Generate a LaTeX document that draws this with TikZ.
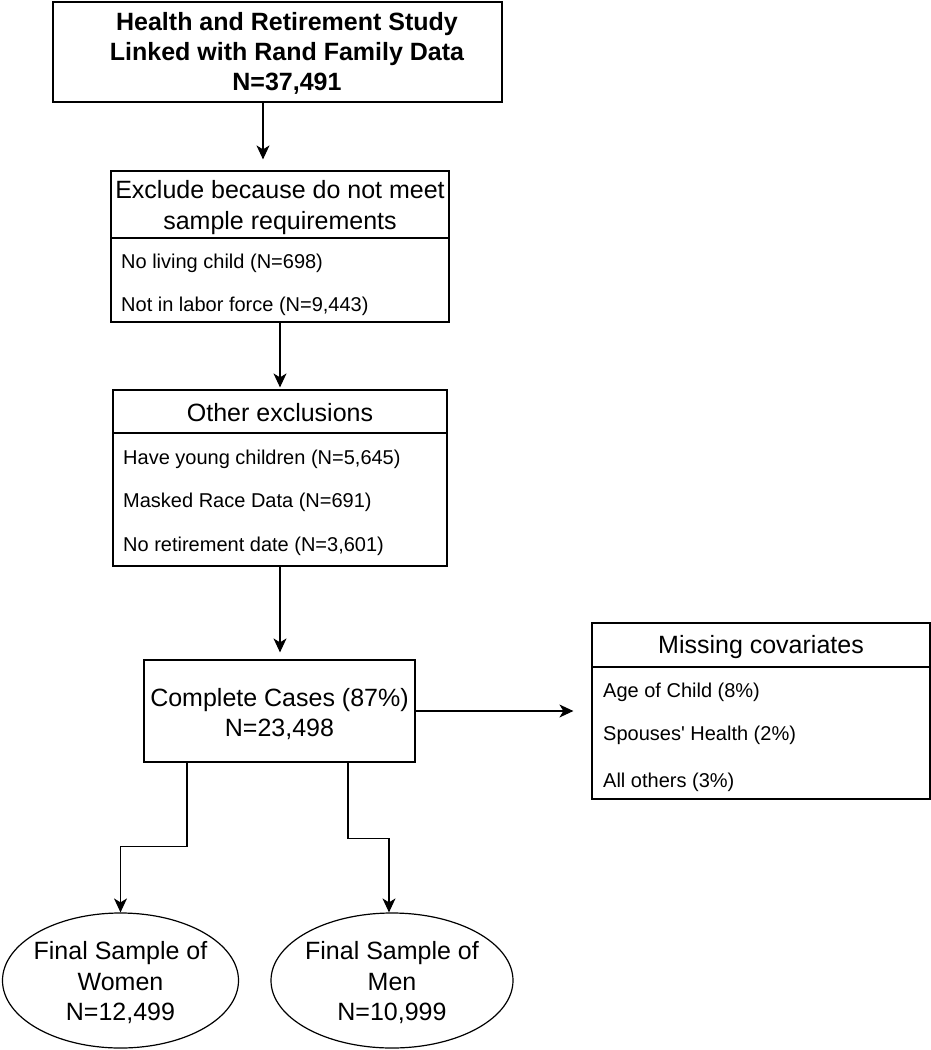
\documentclass[tikz,border=0pt]{standalone}
\usepackage{fontspec}
\setmainfont{Liberation Sans}
\usetikzlibrary{shapes.geometric,arrows.meta}
\begin{document}
\begin{tikzpicture}[x=1pt,y=-1pt,
 box/.style={draw,line width=1.2pt,rectangle,inner sep=0pt},
 ttl/.style={font=\fontsize{25}{30.5}\selectfont,align=center,inner sep=0pt},
 itm/.style={font=\fontsize{20}{24}\selectfont,anchor=west,inner sep=0pt},
 conn/.style={line width=1.2pt,-{Stealth[length=14pt,width=13pt,inset=4pt]}},
 oval/.style={draw,ellipse,line width=1.2pt,inner sep=0pt,minimum height=135pt}]
\useasboundingbox (0,0) rectangle (931,1050);

% top box
\node[box,minimum width=449pt,minimum height=100pt] (top) at (277.5,52) {};
\node[inner sep=0pt,align=center,font=\bfseries\fontsize{25}{30}\selectfont] (toptxt) at (287,53) {Health and Retirement Study\\Linked with Rand Family Data\\N=37,491};

% box 2
\node[box,minimum width=338pt,minimum height=67pt] (b2t) at (280,204.5) {};
\node[ttl] (b2ttxt) at (280,207.5) {Exclude because do not meet\\sample requirements};
\node[box,minimum width=338pt,minimum height=84pt] (b2i) at (280,280) {};
\node[itm] (b2a) at (121,263.5) {No living child (N=698)};
\node[itm] (b2b) at (121,306.5) {Not in labor force (N=9,443)};

% box 3
\node[box,minimum width=334pt,minimum height=43pt] (b3t) at (280,411.5) {};
\node[ttl] (b3ttxt) at (280,413) {Other exclusions};
\node[box,minimum width=334pt,minimum height=133pt] (b3i) at (280,499.5) {};
\node[itm] (b3a) at (123,459.5) {Have young children (N=5,645)};
\node[itm] (b3b) at (123,502.5) {Masked Race Data (N=691)};
\node[itm] (b3c) at (123,546.5) {No retirement date (N=3,601)};

% box 4
\node[box,minimum width=271pt,minimum height=102pt] (b4) at (279.5,711) {};
\node[ttl] (b4txt) at (279.5,714) {Complete Cases (87\%)\\N=23,498};

% box 5
\node[box,minimum width=338pt,minimum height=44pt] (b5t) at (761,645) {};
\node[ttl] (b5ttxt) at (761,647) {Missing covariates};
\node[box,minimum width=338pt,minimum height=132pt] (b5i) at (761,733) {};
\node[itm] (b5a) at (603,692.5) {Age of Child (8\%)};
\node[itm] (b5b) at (603,735.5) {Spouses\textquotesingle{} Health (2\%)};
\node[itm] (b5c) at (603,782.5) {All others (3\%)};

% ellipses
\node[oval,minimum width=236pt] (women) at (120.5,980.5) {};
\node[ttl] (womentxt) at (120.5,983) {Final Sample of\\Women\\N=12,499};
\node[oval,minimum width=242pt] (men) at (392,980.5) {};
\node[ttl] (mentxt) at (392,983) {Final Sample of\\Men\\N=10,999};

% connectors
\draw[conn,shorten >=11pt] ([xshift=-14.5pt]top.south) -- ([xshift=-17pt]b2t.north);
\draw[conn,shorten >=2pt] (b2i.south) -- (b3t.north);
\draw[conn,shorten >=7pt] (b3i.south) -- (b3i.south |- b4.north);
\draw[conn,shorten >=18pt] (b4.east) -- (b4.east -| b5i.west);
\draw[conn] ([xshift=-92.5pt]b4.south) -- ++(0,84) -| (women.north);
\draw[conn] ([xshift=68.5pt]b4.south) -- ++(0,76) -| ([xshift=-3pt]men.north);
\end{tikzpicture}
\end{document}
